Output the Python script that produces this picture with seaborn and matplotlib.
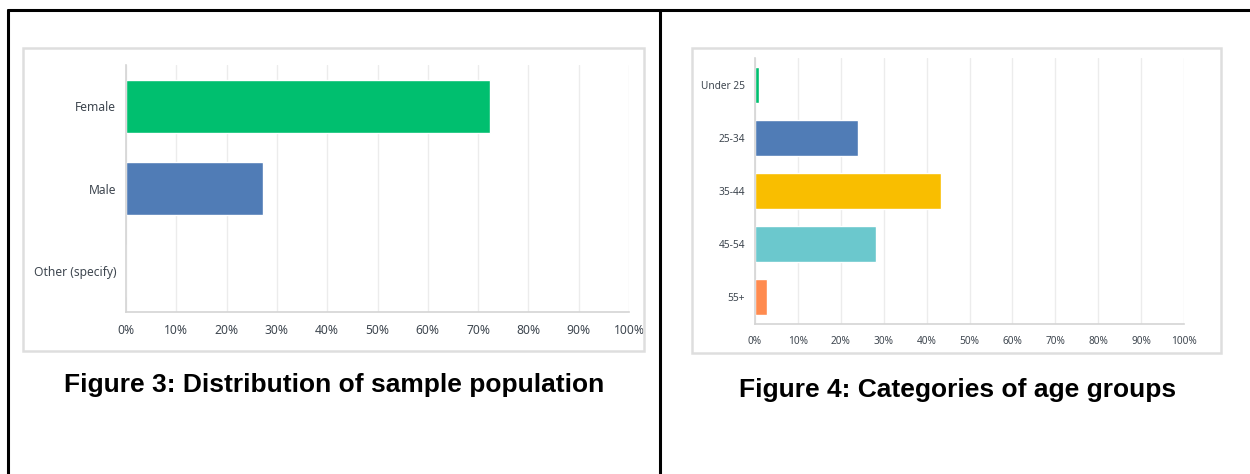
import pandas as pd
import matplotlib.pyplot as plt
import matplotlib.patches as mpatches
import matplotlib.lines as mlines
import seaborn as sns
from matplotlib.ticker import FuncFormatter

# --- data ---
gender_labels = ['Female', 'Male', 'Other (specify)']
gender_pct = [72.3, 27.3, 0.0]
gender_colors = ['#00BF6F', '#507CB6', '#FFFFFF']

age_labels = ['Under 25', '25-34', '35-44', '45-54', '55+']
age_pct = [1.0, 24.0, 43.4, 28.2, 2.8]
age_colors = ['#00BF6F', '#507CB6', '#F9BE00', '#6BC8CD', '#FF8B4F']

captions = ['Figure 3: Distribution of sample population',
            'Figure 4: Categories of age groups']

W, H = 1250, 474
TICK_COLOR = '#3f4750'


def fx(px):
    return px / W


def fy(py):
    return 1 - py / H


def draw_bars(ax, labels, values, colors, width, fsize):
    df = pd.DataFrame({'cat': labels, 'pct': values})
    sns.barplot(data=df, y='cat', x='pct', hue='cat', palette=colors,
                order=labels, hue_order=labels, orient='h', width=width,
                legend=False, ax=ax, saturation=1)
    ax.set_xlim(0, 100)
    ax.set_xticks(range(0, 101, 10))
    ax.xaxis.set_major_formatter(FuncFormatter(lambda v, p: f'{int(v)}%'))
    ax.set_xlabel('')
    ax.set_ylabel('')
    ax.grid(axis='x', color='#ececec', linewidth=1)
    ax.grid(axis='y', visible=False)
    ax.set_axisbelow(True)
    for s in ['top', 'right']:
        ax.spines[s].set_visible(False)
    for s in ['left', 'bottom']:
        ax.spines[s].set_color('#d4d4d4')
        ax.spines[s].set_linewidth(1.2)
    ax.tick_params(axis='both', length=0, colors=TICK_COLOR, labelsize=fsize)
    ax.tick_params(axis='y', pad=7)
    ax.tick_params(axis='x', pad=9)
    for t in ax.get_xticklabels() + ax.get_yticklabels():
        t.set_fontfamily('Noto Sans')


sns.set_style('white')
plt.rcParams['font.family'] = ['Liberation Sans', 'DejaVu Sans']

fig = plt.figure(figsize=(12.5, 4.74), dpi=100)

# table borders
lw = 2.2
fig.add_artist(mlines.Line2D([fx(8), 1], [fy(10), fy(10)], color='black', lw=lw))
fig.add_artist(mlines.Line2D([fx(8), fx(8)], [0, fy(10)], color='black', lw=lw))
fig.add_artist(mlines.Line2D([fx(660), fx(660)], [0, fy(10)], color='black', lw=lw))

# chart frames
for x0, y0, x1, y1 in [(23, 48, 644, 351), (692, 48, 1221, 353)]:
    fig.add_artist(mpatches.Rectangle((fx(x0), fy(y1)), fx(x1 - x0), (y1 - y0) / H,
                                      fill=False, edgecolor='#dedede', lw=1.8))

# left chart: gender
ax1 = fig.add_axes([fx(126), fy(312), fx(503), 247 / H])
draw_bars(ax1, gender_labels, gender_pct, gender_colors, 0.64, 8.7)

# right chart: age groups
ax2 = fig.add_axes([fx(755), fy(324), fx(429), 266 / H])
draw_bars(ax2, age_labels, age_pct, age_colors, 0.68, 7.3)

# captions
fig.text(fx(334), fy(385), captions[0], ha='center', va='center',
         fontsize=19, fontweight='bold', color='black')
fig.text(fx(958), fy(390), captions[1], ha='center', va='center',
         fontsize=19, fontweight='bold', color='black')

fig.savefig('out.png', dpi=100, facecolor='white')
